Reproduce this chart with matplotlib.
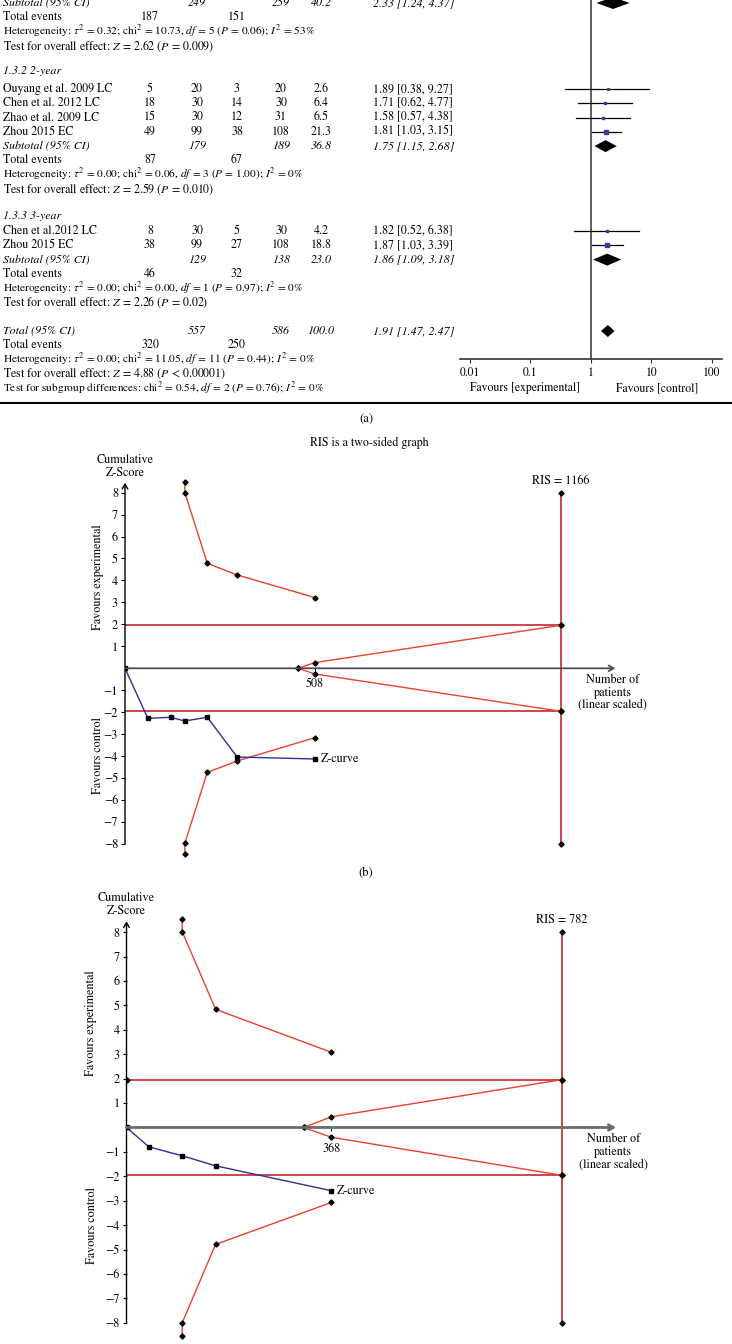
import numpy as np
import matplotlib
matplotlib.use("Agg")
import matplotlib.pyplot as plt

plt.rcParams['font.family'] = 'STIXGeneral'
plt.rcParams['mathtext.fontset'] = 'stix'

# ---------------- (a) forest plot data ----------------
# 1.3.1 (only the bottom of this subgroup is visible)
g1_sub = [249, 259, 40.2, 2.33, 1.24, 4.37]
g1_events = [187, 151]
g1_het = r'$\tau^2$ = 0.32; chi$^2$ = 10.73, $df$ = 5 ($P$ = 0.06); $I^2$ = 53%'
g1_test = r'$Z$ = 2.62 ($P$ = 0.009)'

# 1.3.2 2-year
g2_names = ["Ouyang et al. 2009 LC", "Chen et al. 2012 LC", "Zhao et al. 2009 LC", "Zhou 2015 EC"]
g2_ev_e = [5, 18, 15, 49]
g2_n_e = [20, 30, 30, 99]
g2_ev_c = [3, 14, 12, 38]
g2_n_c = [20, 30, 31, 108]
g2_w = [2.6, 6.4, 6.5, 21.3]
g2_or = [1.89, 1.71, 1.58, 1.81]
g2_lo = [0.38, 0.62, 0.57, 1.03]
g2_hi = [9.27, 4.77, 4.38, 3.15]
g2_sub = [179, 189, 36.8, 1.75, 1.15, 2.68]
g2_events = [87, 67]
g2_het = r'$\tau^2$ = 0.00; chi$^2$ = 0.06, $df$ = 3 ($P$ = 1.00); $I^2$ = 0%'
g2_test = r'$Z$ = 2.59 ($P$ = 0.010)'

# 1.3.3 3-year
g3_names = ["Chen et al.2012 LC", "Zhou 2015 EC"]
g3_ev_e = [8, 38]
g3_n_e = [30, 99]
g3_ev_c = [5, 27]
g3_n_c = [30, 108]
g3_w = [4.2, 18.8]
g3_or = [1.82, 1.87]
g3_lo = [0.52, 1.03]
g3_hi = [6.38, 3.39]
g3_sub = [129, 138, 23.0, 1.86, 1.09, 3.18]
g3_events = [46, 32]
g3_het = r'$\tau^2$ = 0.00; chi$^2$ = 0.00, $df$ = 1 ($P$ = 0.97); $I^2$ = 0%'
g3_test = r'$Z$ = 2.26 ($P$ = 0.02)'

# overall
tot = [557, 586, 100.0, 1.91, 1.47, 2.47]
tot_events = [320, 250]
tot_het = r'$\tau^2$ = 0.00; chi$^2$ = 11.05, $df$ = 11 ($P$ = 0.44); $I^2$ = 0%'
tot_test = r'$Z$ = 4.88 ($P$ < 0.00001)'
tot_sub = r'chi$^2$ = 0.54, $df$ = 2 ($P$ = 0.76); $I^2$ = 0%'

or_ticks = [0.01, 0.1, 1, 10, 100]
or_ticklabels = ['0.01', '0.1', '1', '10', '100']

# ---------------- (b) TSA ----------------
b_ris = 1166
b_bound_n = [160, 160, 220, 300, 508]
b_bound_up = [8.5, 8.0, 4.78, 4.25, 3.22]
b_bound_lo = [-8.46, -7.97, -4.74, -4.22, -3.16]
b_fut_n = [463, 508, 1166]
b_fut_up = [0, 0.26, 1.96]
b_fut_lo = [0, -0.26, -1.96]
b_z_n = [0, 61, 122, 160, 220, 300, 508]
b_z = [0, -2.28, -2.23, -2.40, -2.23, -4.04, -4.13]
b_tick = 508

# ---------------- (c) TSA ----------------
c_ris = 782
c_bound_n = [100, 100, 160, 368]
c_bound_up = [8.55, 8.02, 4.84, 3.08]
c_bound_lo = [-8.55, -8.0, -4.79, -3.07]
c_fut_n = [318, 368, 782]
c_fut_up = [0, 0.44, 1.96]
c_fut_lo = [0, -0.40, -1.96]
c_z_n = [0, 40, 100, 160, 368]
c_z = [0, -0.79, -1.16, -1.57, -2.59]
c_tick = 368

z_crit = 1.96
ris_top = 8

W, H = 732, 1344
fig = plt.figure(figsize=(W / 100, H / 100), dpi=100)
bg = fig.add_axes([0, 0, 1, 1])
bg.set_xlim(0, W)
bg.set_ylim(H, 0)
bg.axis('off')


def box(l, t, r, b):
    return fig.add_axes([l / W, 1 - b / H, (r - l) / W, (b - t) / H])


fs = 8.6      # table text
fs_m = 8.2    # lines with a lot of math in them
col_x = [150, 197, 237, 281, 321]
or_x = 373
sq_col = '#3b3b98'

fa = box(460, 0, 722, 359)
fa.patch.set_visible(False)
fa.set_xscale('log')
fa.set_xlim(10 ** (-2 - 10 / 60.4), 10 ** (2 + 10.3 / 60.4))
fa.set_ylim(359, 0)
for s in ['top', 'left', 'right']:
    fa.spines[s].set_visible(False)
fa.spines['bottom'].set_linewidth(1.2)
fa.spines['bottom'].set_color('#333333')
fa.axvline(1, color='#333333', lw=1.1)
fa.set_xticks(or_ticks)
fa.set_xticklabels(or_ticklabels, fontsize=8.5)
fa.xaxis.set_minor_locator(matplotlib.ticker.NullLocator())
fa.tick_params(axis='x', length=3, pad=3, color='#333333')
fa.set_yticks([])


def txt(x, y, s, size=fs, **kw):
    bg.text(x, y, s, fontsize=size, va='center', **kw)


def numbers(y, vals, italic=False):
    st = 'italic' if italic else 'normal'
    for x, v in zip(col_x, vals):
        if v is not None:
            txt(x, y, v, ha='center', style=st)


def diamond(y, o, lo, hi):
    fa.fill([lo, o, hi, o], [y, y - 6, y, y + 6], color='black', lw=0)


def subtotal(y, vals, label="Subtotal (95% CI)"):
    ne, nc, w, o, lo, hi = vals
    txt(3, y, label, style='italic')
    numbers(y, [None, str(ne), None, str(nc), f'{w:.1f}'], italic=True)
    txt(or_x, y, f'{o:.2f} [{lo:.2f}, {hi:.2f}]', style='italic')
    diamond(y, o, lo, hi)


def group_foot(y, ev, het, test, step):
    txt(3, y, "Total events")
    numbers(y, [str(ev[0]), None, str(ev[1])])
    y += step
    txt(3, y, "Heterogeneity: " + het, size=fs_m)
    y += step
    txt(3, y, "Test for overall effect: " + test)
    return y


def studies(y, names, ee, ne, ec, nc, w, o, lo, hi, step):
    for i in range(len(names)):
        txt(3, y, names[i])
        numbers(y, [str(ee[i]), str(ne[i]), str(ec[i]), str(nc[i]), f'{w[i]:.1f}'])
        txt(or_x, y, f'{o[i]:.2f} [{lo[i]:.2f}, {hi[i]:.2f}]')
        fa.plot([lo[i], hi[i]], [y, y], color='black', lw=0.9)
        fa.plot(o[i], y, 's', ms=np.sqrt(w[i]) * 0.75, color=sq_col)
        y += step
    return y


step = 14.3
y = 3
subtotal(y, g1_sub)
y = group_foot(y + step, g1_events, g1_het, g1_test, step)

y += 25
txt(3, y, "1.3.2 2-year", style='italic')
y += 18
y = studies(y, g2_names, g2_ev_e, g2_n_e, g2_ev_c, g2_n_c, g2_w, g2_or, g2_lo, g2_hi, step)
subtotal(y, g2_sub)
y = group_foot(y + step, g2_events, g2_het, g2_test, step)

y += 27
txt(3, y, "1.3.3 3-year", style='italic')
y += 15
y = studies(y, g3_names, g3_ev_e, g3_n_e, g3_ev_c, g3_n_c, g3_w, g3_or, g3_lo, g3_hi, step)
subtotal(y, g3_sub)
y = group_foot(y + step, g3_events, g3_het, g3_test, step)

y += 28.5
subtotal(y, tot, label="Total (95% CI)")
y = group_foot(y + step, tot_events, tot_het, tot_test, step)
y += step
txt(3, y, "Test for subgroup differences: " + tot_sub, size=fs_m)

txt(525, 388, "Favours [experimental]", size=8.5, ha='center')
txt(657, 388, "Favours [control]", size=8.5, ha='center')

bg.axhline(403, color='black', lw=1.5)
bg.text(366, 420, "(a)", fontsize=9, ha='center', va='center')
bg.text(369, 443, "RIS is a two-sided graph", fontsize=8.6, ha='center', va='center')
bg.text(366, 873, "(b)", fontsize=9, ha='center', va='center')

red = '#e8432d'
dark = '#c1272d'
blue = '#2e3192'
tfs = 8.7


def tsa(ax, ris, bn, bup, blo, fn, fup, flo, zn, zv, x_end, tick, tick_pad, ax_col, ax_lw, dot0):
    ax.patch.set_visible(False)
    for s in ['top', 'right', 'bottom', 'left']:
        ax.spines[s].set_visible(False)
    ax.spines['bottom'].set_position(('data', 0))
    ah = '->,head_length=0.35,head_width=0.2'
    ax.annotate('', xy=(0, 8.45), xytext=(0, -8),
                arrowprops=dict(arrowstyle=ah, color='black', lw=1, shrinkA=0, shrinkB=0))
    ax.annotate('', xy=(x_end, 0), xytext=(0, 0),
                arrowprops=dict(arrowstyle=ah, color=ax_col, lw=ax_lw, shrinkA=0, shrinkB=0))
    ax.set_yticks([-8, -7, -6, -5, -4, -3, -2, -1, 1, 2, 3, 4, 5, 6, 7, 8])
    ax.tick_params(axis='y', length=3, pad=2, labelsize=tfs)
    ax.set_xticks([tick])
    ax.set_xticklabels([str(tick)])
    ax.tick_params(axis='x', length=3, pad=tick_pad, labelsize=tfs)

    mk = dict(marker='D', ms=2.6, mfc='black', mec='black')
    ax.plot([0, ris], [z_crit, z_crit], color=dark, lw=1.2)
    ax.plot([0, ris], [-z_crit, -z_crit], color=dark, lw=1.2)
    if dot0:
        ax.plot(0, z_crit, **mk)
    ax.plot([ris, ris, ris, ris], [ris_top, z_crit, -z_crit, -ris_top], color=dark, lw=1.2, **mk)
    ax.plot(bn, bup, color=red, lw=1, **mk)
    ax.plot(bn, blo, color=red, lw=1, **mk)
    ax.plot(fn, fup, color=red, lw=1, **mk)
    ax.plot(fn, flo, color=red, lw=1, **mk)
    ax.plot(zn, zv, color=blue, lw=1, marker='s', ms=2.4, mfc='black', mec='black')

    ax.annotate('RIS = %d' % ris, xy=(ris, ris_top), xytext=(0, 8.5), textcoords='offset points',
                ha='center', va='center', fontsize=tfs)
    ax.annotate('Z-curve', xy=(zn[-1], zv[-1]), xytext=(4, 0), textcoords='offset points',
                ha='left', va='center', fontsize=tfs)
    ax.annotate('Number of\npatients\n(linear scaled)', xy=(x_end, 0), xytext=(-2, -4),
                textcoords='offset points', ha='center', va='top', fontsize=tfs,
                linespacing=1.1)
    ax.annotate('Cumulative\nZ-Score', xy=(0, 8.45), xytext=(0, 3), textcoords='offset points',
                ha='center', va='bottom', fontsize=tfs, linespacing=1.1)


axb = box(125, 470, 640, 860)
axb.set_xlim(0, 1377)
axb.set_ylim(-8.73, 9.03)
tsa(axb, b_ris, b_bound_n, b_bound_up, b_bound_lo, b_fut_n, b_fut_up, b_fut_lo,
    b_z_n, b_z, 1311, b_tick, 4, '#4d4d4d', 1.3, False)
bg.text(98, 577, "Favours experimental", fontsize=tfs, rotation=90, ha='center', va='center')
bg.text(98, 756, "Favours control", fontsize=tfs, rotation=90, ha='center', va='center')

axc = box(126.5, 900, 640, 1344)
axc.set_xlim(0, 922)
axc.set_ylim(-8.87, 9.32)
tsa(axc, c_ris, c_bound_n, c_bound_up, c_bound_lo, c_fut_n, c_fut_up, c_fut_lo,
    c_z_n, c_z, 879, c_tick, 8, '#6b6b6b', 2, True)
bg.text(91, 1023, "Favours experimental", fontsize=tfs, rotation=90, ha='center', va='center')
bg.text(92, 1225, "Favours control", fontsize=tfs, rotation=90, ha='center', va='center')

fig.savefig('out.png', dpi=100)
